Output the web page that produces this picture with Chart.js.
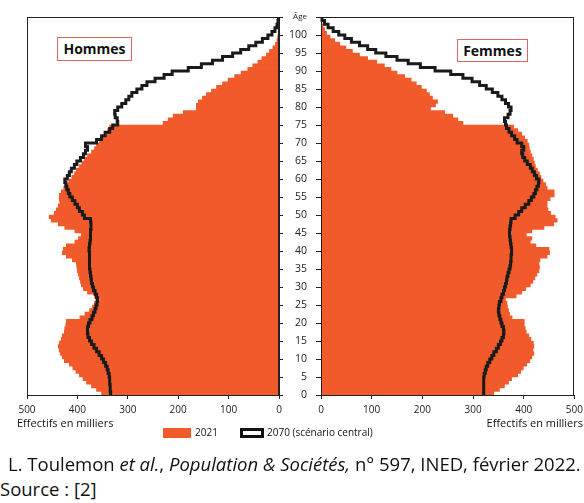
<!DOCTYPE html>
<html lang="fr">
<head>
<meta charset="utf-8">
<script src="https://cdn.jsdelivr.net/npm/chart.js@4.4.1/dist/chart.umd.min.js"></script>
<style>
  body { margin: 0; width: 584px; height: 503px; background: #fff; position: relative; overflow: hidden; font-family: "Open Sans", sans-serif; color: #111; }
  .pane { position: absolute; top: 0; height: 420px; }
  .sexe { position: absolute; border: 1px solid #e06666; font-weight: bold; font-size: 14px; line-height: 22px; text-align: center; background: #fff; }
  .unit { position: absolute; top: 415px; font-size: 11px; white-space: nowrap; }
  .leg { position: absolute; top: 428px; height: 10px; box-sizing: border-box; }
  .legtxt { position: absolute; top: 425px; font-size: 10px; white-space: nowrap; }
  .cap { position: absolute; left: 8px; font-size: 18.5px; white-space: nowrap; }
</style>
</head>
<body>
<div class="pane" style="left:0;width:290px"><canvas id="hommes"></canvas></div>
<div class="pane" style="left:290px;width:298px"><canvas id="femmes"></canvas></div>

<div class="sexe" style="left:57px;top:37px;width:73px;height:22px">Hommes</div>
<div class="sexe" style="left:457px;top:39px;width:69px;height:21px">Femmes</div>

<div class="unit" style="left:17px">Effectifs en milliers</div>
<div class="unit" style="right:1px">Effectifs en milliers</div>

<div class="leg" style="left:163px;width:28px;background:#f15a2b"></div>
<div class="legtxt" style="left:195px">2021</div>
<div class="leg" style="left:240px;width:24px;border:3px solid #111"></div>
<div class="legtxt" style="left:267px">2070 (scénario central)</div>

<div class="cap" style="top:451px">L. Toulemon <i>et al.</i>, <i>Population &amp; Sociétés,</i> n° 597, INED, février 2022.</div>
<div class="cap" style="top:476px;left:0">Source : [2]</div>

<script>
var ages = Array.from({ length: 105 }, function (_, i) { return i; });
var ageTicks = [0, 5, 10, 15, 20, 25, 30, 35, 40, 45, 50, 55, 60, 65, 70, 75, 80, 85, 90, 95, 100, 105];
var effTicks = [0, 100, 200, 300, 400, 500];

var hommes2021 = [352, 362, 372, 382, 389, 396, 403, 409, 416, 426,
  430, 434, 436, 438, 436, 432, 430, 426, 425, 423,
  422, 395, 385, 376, 370, 366, 356, 366, 380, 388,
  392, 394, 396, 398, 400, 401, 402, 410, 422, 430,
  428, 422, 405, 398, 392, 405, 425, 438, 452, 456,
  446, 442, 438, 435, 436, 436, 432, 427, 422, 417,
  411, 406, 402, 396, 391, 386, 380, 372, 366, 362,
  356, 350, 345, 340, 336, 230, 220, 210, 190, 164,
  164, 160, 152, 144, 134, 124, 112, 101, 88, 75,
  62, 52, 42, 34, 25, 19, 12, 7, 4, 2.5,
  1.5, 1, 0.6, 0.3, 0.2];

var hommes2070 = [334, 335, 335, 336, 336, 337, 339, 341, 344, 348,
  352, 357, 362, 367, 372, 376, 379, 380, 380, 378,
  375, 371, 368, 365, 363, 361, 360, 362, 365, 368,
  370, 372, 373, 374, 375, 376, 376, 376, 376, 376,
  377, 376, 375, 374, 374, 374, 373, 373, 374, 386,
  390, 396, 400, 405, 410, 415, 418, 421, 423, 425,
  420, 416, 412, 406, 401, 394, 388, 384, 380, 384,
  362, 352, 345, 336, 330, 320, 321, 325, 326, 320,
  312, 304, 298, 292, 282, 272, 262, 246, 228, 212,
  180, 154, 132, 112, 92, 76, 60, 46, 33, 22,
  14, 8, 4, 2, 1];

var femmes2021 = [341, 352, 362, 370, 376, 388, 394, 399, 406, 412,
  416, 420, 418, 420, 419, 414, 410, 405, 403, 401,
  401, 377, 372, 370, 368, 367, 364, 385, 396, 404,
  413, 418, 422, 426, 430, 431, 430, 432, 446, 451,
  450, 424, 413, 416, 405, 416, 440, 459, 466, 462,
  453, 448, 446, 446, 452, 460, 460, 446, 443, 438,
  434, 431, 427, 423, 421, 419, 416, 413, 411, 410,
  407, 402, 396, 388, 380, 280, 270, 260, 244, 216,
  226, 230, 220, 214, 208, 198, 188, 178, 165, 150,
  138, 125, 110, 92, 76, 62, 49, 37, 27, 18,
  11, 7, 4, 2, 1];

var femmes2070 = [321, 321, 321, 321, 321, 322, 324, 326, 329, 333,
  337, 341, 346, 350, 354, 357, 360, 361, 360, 357,
  355, 353, 351, 350, 351, 352, 355, 357, 360, 362,
  364, 366, 367, 369, 371, 373, 374, 375, 375, 376,
  376, 375, 374, 373, 372, 372, 373, 374, 375, 383,
  390, 396, 403, 410, 415, 420, 423, 426, 429, 430,
  425, 421, 417, 413, 407, 402, 398, 396, 400, 396,
  387, 382, 376, 371, 366, 364, 362, 369, 373, 375,
  370, 364, 357, 349, 338, 326, 313, 298, 280, 256,
  225, 196, 172, 150, 128, 108, 92, 76, 60, 47,
  35, 24, 14, 7, 2];

var ORANGE = '#f15a2b';
var INK = '#222';

function barPoints(vals) {
  return vals.map(function (v, i) { return { x: v, y: ages[i] + 0.5 }; });
}
function stepPoints(vals) {
  var pts = vals.map(function (v, i) { return { x: v, y: ages[i] }; });
  pts.push({ x: vals[vals.length - 1], y: ages[ages.length - 1] + 1 });
  return pts;
}

// cadre noir autour de la zone de tracé
var frame = {
  id: 'frame',
  afterDraw: function (chart) {
    var a = chart.chartArea, ctx = chart.ctx;
    ctx.save();
    ctx.strokeStyle = INK;
    ctx.lineWidth = 1;
    ctx.strokeRect(Math.round(a.left) + 0.5, Math.round(a.top) + 0.5,
      Math.round(a.right - a.left) - 1, Math.round(a.bottom - a.top));
    ctx.restore();
  }
};

function pyramide(id, v2021, v2070, gauche) {
  return new Chart(document.getElementById(id), {
    type: 'bar',
    data: {
      datasets: [
        {
          type: 'line', label: '2070 (scénario central)', data: stepPoints(v2070),
          stepped: 'after', borderColor: '#1a1a1a', borderWidth: 3, pointRadius: 0,
          fill: false, order: 0, clip: 4
        },
        {
          label: '2021', data: barPoints(v2021), backgroundColor: ORANGE,
          borderWidth: 0, barPercentage: 1, categoryPercentage: 1, order: 1
        }
      ]
    },
    options: {
      indexAxis: 'y',
      responsive: true,
      maintainAspectRatio: false,
      animation: false,
      events: [],
      layout: { autoPadding: false, padding: gauche ? { left: 27, top: 17, right: 0, bottom: 0 } : { left: 0, top: 17, right: 0, bottom: 0 } },
      plugins: { legend: { display: false }, tooltip: { enabled: false } },
      scales: {
        x: {
          type: 'linear', min: 0, max: 500, reverse: gauche, position: 'bottom',
          afterBuildTicks: function (s) { s.ticks = effTicks.map(function (v) { return { value: v }; }); },
          ticks: { color: INK, font: { family: 'Open Sans', size: 10 }, padding: 5, maxRotation: 0 },
          grid: { drawOnChartArea: false, tickLength: 4, color: INK },
          border: { color: INK },
          afterFit: function (s) { s.height = 25; }
        },
        y: {
          type: 'linear', min: 0, max: 105, offset: false, position: gauche ? 'right' : 'left',
          afterBuildTicks: function (s) { s.ticks = ageTicks.map(function (v) { return { value: v }; }); },
          ticks: {
            color: INK,
            padding: 9,
            font: function (c) { return { family: 'Open Sans', size: c.tick && c.tick.value === 105 ? 8 : 10.5 }; },
            callback: function (v) { return gauche ? '' : (v === 105 ? 'Âge' : v); }
          },
          grid: { drawOnChartArea: false, offset: false, tickLength: gauche ? 4 : 5, color: INK },
          border: { color: INK },
          afterFit: function (s) { s.width = gauche ? 11 : 31; }
        }
      }
    },
    plugins: [frame]
  });
}

pyramide('hommes', hommes2021, hommes2070, true);
pyramide('femmes', femmes2021, femmes2070, false);
</script>
</body>
</html>
